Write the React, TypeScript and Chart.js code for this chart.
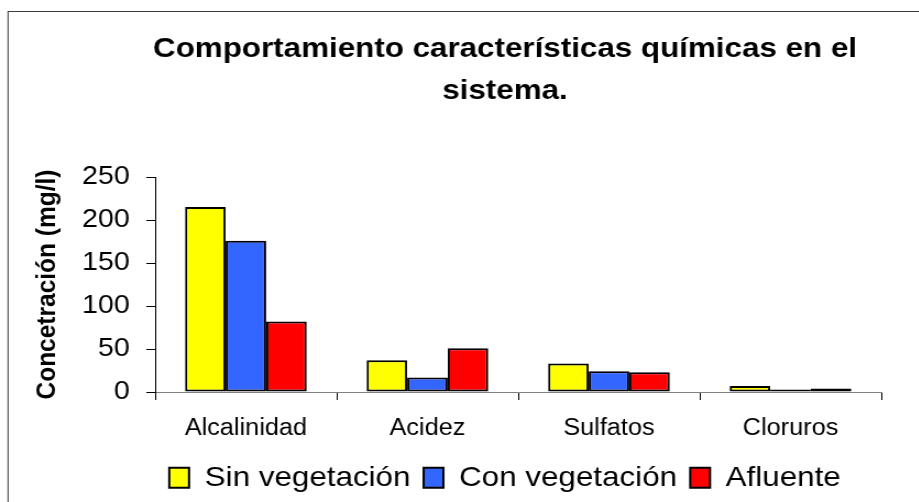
import React, { useEffect, useRef } from "react";
import { Chart, registerables } from "chart.js";

Chart.register(...registerables);

// ---- data ----
const categories = ["Alcalinidad", "Acidez", "Sulfatos", "Cloruros"];
const seriesNames = ["Sin vegetación", "Con vegetación", "Afluente"];
const sinVegetacion = [215, 37, 33, 7];
const conVegetacion = [176, 17, 24, 3];
const afluente = [82, 51, 23, 4];
const titleLines = ["Comportamiento características químicas en el", "sistema."];
const yAxisTitle = "Concetración (mg/l)";
const yMin = 0;
const yMax = 250;
const yStep = 50;

// ---- styling / layout ----
const FONT = "'Liberation Sans', Arial, Helvetica, sans-serif";
const SX = 1.1; // horizontal stretch of the reference drawing
const W = 918; // internal canvas width (wider than visible area, like the cropped original)
const H = 502;
const PLOT_LEFT = 141;
const PLOT_RIGHT = 801;
const seriesColors = ["#FFFF00", "#3366FF", "#FF0000"];

const framePlugin = {
  id: "frame",
  beforeDraw(chart: any) {
    const ctx = chart.ctx;
    ctx.save();
    ctx.strokeStyle = "#3c3c3c";
    ctx.lineWidth = 1;
    ctx.strokeRect(7.3, 11.5, 3000, 3000);
    ctx.restore();
  },
};

export default function App() {
  const ref = useRef<HTMLCanvasElement | null>(null);

  useEffect(() => {
    if (!ref.current) return;
    const values = [sinVegetacion, conVegetacion, afluente];
    const chart = new Chart(ref.current, {
      type: "bar",
      data: {
        labels: categories,
        datasets: seriesNames.map((name, i) => ({
          label: name,
          data: values[i],
          backgroundColor: seriesColors[i],
          borderColor: "#000000",
          borderWidth: 2,
          borderSkipped: false,
          categoryPercentage: 0.67,
          barPercentage: 1.0,
        })),
      },
      options: {
        responsive: false,
        maintainAspectRatio: false,
        devicePixelRatio: 1,
        animation: false,
        layout: { padding: { top: 12, left: 0, right: 0, bottom: 0 } },
        plugins: {
          tooltip: { enabled: false },
          title: {
            display: true,
            text: titleLines,
            color: "#000",
            font: { family: FONT, size: 28.5, weight: "bold", lineHeight: 42 / 28.5 },
            padding: { top: 16, bottom: 65 },
          },
          legend: {
            position: "bottom",
            labels: {
              color: "#000",
              font: { family: FONT, size: 28.5 },
              boxWidth: 18,
              boxHeight: 20,
              padding: 12,
            },
          },
        },
        scales: {
          x: {
            type: "category",
            offset: true,
            grid: {
              display: true,
              offset: true,
              drawOnChartArea: false,
              drawTicks: true,
              tickLength: 8,
              color: "#000",
            },
            border: { display: true, color: "#808080", width: 1 },
            ticks: {
              color: "#000",
              font: { family: FONT, size: 23 },
              padding: 15,
              maxRotation: 0,
              autoSkip: false,
            },
            afterFit: (s: any) => {
              s.height = 59.5;
            },
          },
          y: {
            type: "linear",
            position: "left",
            min: yMin,
            max: yMax,
            ticks: {
              stepSize: yStep,
              color: "#000",
              font: { family: FONT, size: 26 },
              padding: 15,
            },
            grid: {
              drawOnChartArea: false,
              drawTicks: true,
              tickLength: 8,
              color: "#000",
            },
            border: { display: true, color: "#000", width: 1 },
            title: {
              display: true,
              text: yAxisTitle,
              color: "#000",
              font: { family: FONT, size: 24.5, weight: "bold" },
              padding: { top: 29, bottom: 0 },
            },
            afterFit: (s: any) => {
              s.width = PLOT_LEFT;
            },
          },
          yRight: {
            type: "linear",
            position: "right",
            display: true,
            grid: { display: false },
            ticks: { display: false },
            border: { display: false },
            afterFit: (s: any) => {
              s.width = W - PLOT_RIGHT;
            },
          },
        },
      },
      plugins: [framePlugin],
    } as any);
    return () => chart.destroy();
  }, []);

  return (
    <div
      style={{
        position: "fixed",
        left: 0,
        top: 0,
        width: 919,
        height: 502,
        overflow: "hidden",
        background: "#fff",
      }}
    >
      <canvas
        ref={ref}
        width={W}
        height={H}
        style={{ width: `${W * SX}px`, height: `${H}px`, display: "block" }}
      />
    </div>
  );
}
